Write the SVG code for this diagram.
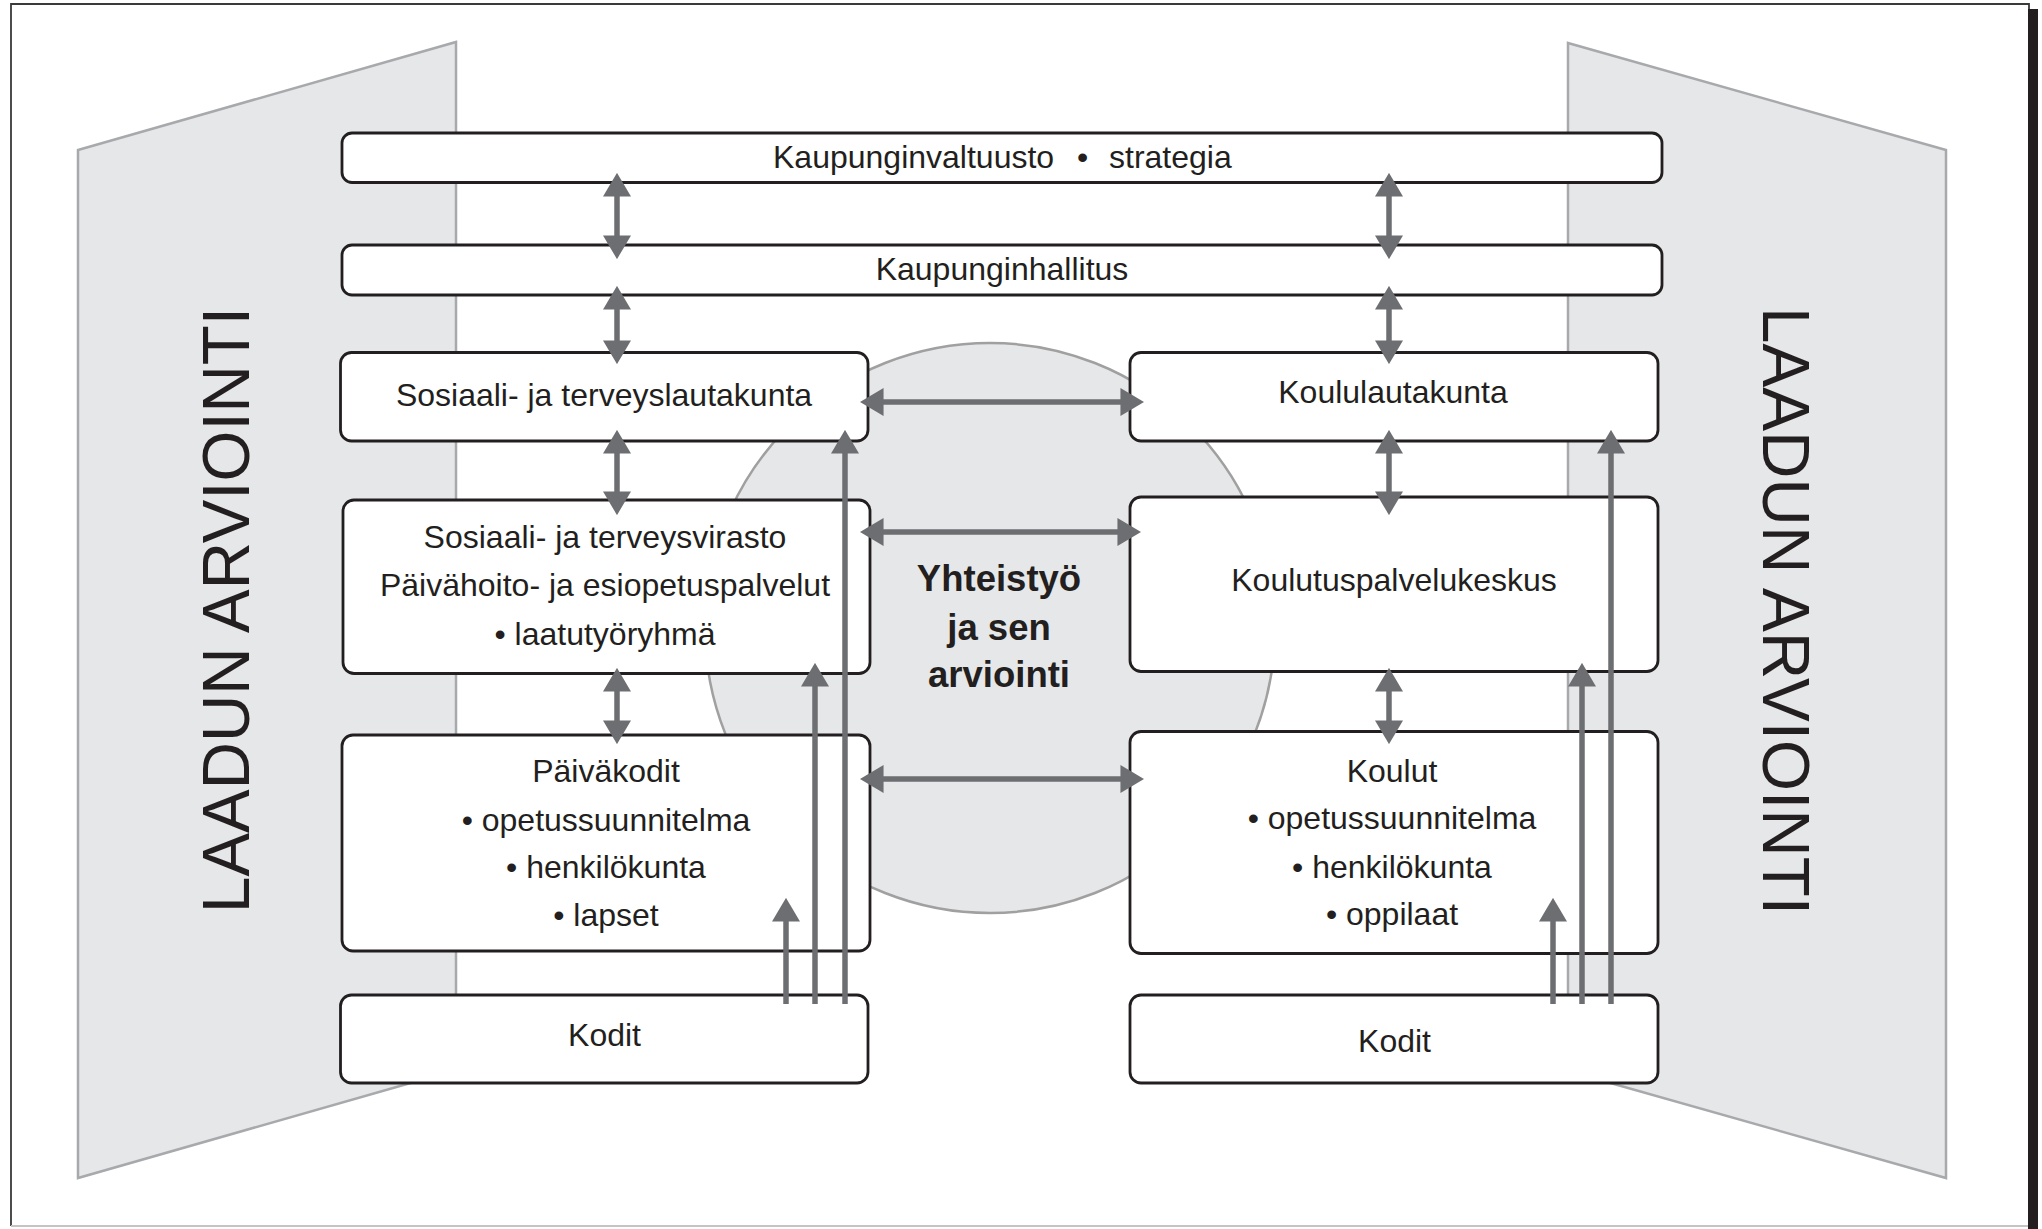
<svg xmlns="http://www.w3.org/2000/svg" width="2042" height="1229" viewBox="0 0 2042 1229">
<style>
.box{fill:#ffffff;stroke:#231f20;stroke-width:2.8}
.wall{fill:#e6e7e8;stroke:#a7a9ac;stroke-width:2.5}
.t{font-family:"Liberation Sans",Arial,Helvetica,sans-serif;font-size:32px;fill:#231f20;text-anchor:middle}
.tb{font-family:"Liberation Sans",Arial,Helvetica,sans-serif;font-size:36.5px;font-weight:bold;fill:#231f20;text-anchor:middle}
.big{font-family:"Liberation Sans",Arial,Helvetica,sans-serif;font-size:66px;fill:#231f20;text-anchor:middle}
.a{stroke:#6d6e71;stroke-width:5.5;fill:none}
</style>
<defs>
<marker id="ah" markerUnits="userSpaceOnUse" markerWidth="24" markerHeight="28" viewBox="0 0 22 26" refX="0.5" refY="13" orient="auto-start-reverse">
<path d="M0,0 L22,13 L0,26 Z" fill="#6d6e71"/>
</marker>
</defs>
<rect width="2042" height="1229" fill="#ffffff"/>
<g id="frame">
<path d="M11,1226 L11,4 L2029,4 L2029,9" fill="none" stroke="#3a3a3a" stroke-width="1.8"/>
<line x1="11" y1="1226" x2="2029" y2="1226" stroke="#c4c4c4" stroke-width="2"/>
<rect x="2028" y="9" width="10" height="1220" fill="#231f20"/>
</g>
<g id="wall-left">
<polygon class="wall" points="78,150 456,42 456,1070 78,1178"/>
<text class="big" transform="translate(249,610) rotate(-90)" textLength="606" lengthAdjust="spacingAndGlyphs">LAADUN ARVIOINTI</text>
</g>
<g id="wall-right">
<polygon class="wall" points="1568,43 1946,150 1946,1178 1568,1071"/>
<text class="big" transform="translate(1763,611) rotate(90)" textLength="608" lengthAdjust="spacingAndGlyphs">LAADUN ARVIOINTI</text>
</g>
<g id="cooperation">
<circle cx="990" cy="628" r="285" fill="#e6e7e8" stroke="#a0a0a0" stroke-width="2.5"/>
<text class="tb" x="999" y="591">Yhteistyö</text>
<text class="tb" x="999" y="640">ja sen</text>
<text class="tb" x="999" y="687">arviointi</text>
</g>
<g id="kaupunginvaltuusto">
<rect class="box" x="342" y="133" width="1320" height="49.5" rx="10"/>
<text class="t" x="773" y="168" style="text-anchor:start">Kaupunginvaltuusto<tspan x="1077">•</tspan><tspan x="1109">strategia</tspan></text>
</g>
<g id="kaupunginhallitus">
<rect class="box" x="342" y="245" width="1320" height="50" rx="10"/>
<text class="t" x="1002" y="280">Kaupunginhallitus</text>
</g>
<g id="sosiaali-lautakunta">
<rect class="box" x="340.5" y="352.5" width="527.5" height="88.5" rx="11"/>
<text class="t" x="604" y="406">Sosiaali- ja terveyslautakunta</text>
</g>
<g id="koululautakunta">
<rect class="box" x="1130" y="352.5" width="528" height="88.5" rx="11"/>
<text class="t" x="1393" y="403">Koululautakunta</text>
</g>
<g id="sosiaali-virasto">
<rect class="box" x="343" y="500" width="527" height="173.5" rx="11"/>
<text class="t" x="605" y="548">Sosiaali- ja terveysvirasto</text>
<text class="t" x="605" y="596">Päivähoito- ja esiopetuspalvelut</text>
<text class="t" x="605" y="645">• laatutyöryhmä</text>
</g>
<g id="koulutuspalvelukeskus">
<rect class="box" x="1130" y="497" width="528" height="174.5" rx="11"/>
<text class="t" x="1394" y="590.5">Koulutuspalvelukeskus</text>
</g>
<g id="paivakodit">
<rect class="box" x="342" y="735" width="528" height="216" rx="11"/>
<text class="t" x="606" y="782">Päiväkodit</text>
<text class="t" x="606" y="830.5">• opetussuunnitelma</text>
<text class="t" x="606" y="878">• henkilökunta</text>
<text class="t" x="606" y="926">• lapset</text>
</g>
<g id="koulut">
<rect class="box" x="1130" y="731.5" width="528" height="222" rx="11"/>
<text class="t" x="1392" y="781.5">Koulut</text>
<text class="t" x="1392" y="829">• opetussuunnitelma</text>
<text class="t" x="1392" y="877.5">• henkilökunta</text>
<text class="t" x="1392" y="925">• oppilaat</text>
</g>
<g id="kodit-left">
<rect class="box" x="340.5" y="995" width="527.5" height="88" rx="11"/>
<text class="t" x="604.5" y="1046">Kodit</text>
</g>
<g id="kodit-right">
<rect class="box" x="1130" y="995" width="528" height="88" rx="11"/>
<text class="t" x="1394.5" y="1052">Kodit</text>
</g>
<g id="connectors" class="a">
<line x1="617" y1="196" x2="617" y2="236" marker-start="url(#ah)" marker-end="url(#ah)"/>
<line x1="617" y1="309" x2="617" y2="341" marker-start="url(#ah)" marker-end="url(#ah)"/>
<line x1="617" y1="453" x2="617" y2="492" marker-start="url(#ah)" marker-end="url(#ah)"/>
<line x1="617" y1="691" x2="617" y2="721" marker-start="url(#ah)" marker-end="url(#ah)"/>
<line x1="1389" y1="196" x2="1389" y2="236" marker-start="url(#ah)" marker-end="url(#ah)"/>
<line x1="1389" y1="309" x2="1389" y2="341" marker-start="url(#ah)" marker-end="url(#ah)"/>
<line x1="1389" y1="453" x2="1389" y2="492" marker-start="url(#ah)" marker-end="url(#ah)"/>
<line x1="1389" y1="691" x2="1389" y2="721" marker-start="url(#ah)" marker-end="url(#ah)"/>
<line x1="883" y1="402" x2="1121" y2="402" marker-start="url(#ah)" marker-end="url(#ah)"/>
<line x1="883" y1="532" x2="1118" y2="532" marker-start="url(#ah)" marker-end="url(#ah)"/>
<line x1="883" y1="779" x2="1121" y2="779" marker-start="url(#ah)" marker-end="url(#ah)"/>
<line x1="786" y1="1004" x2="786" y2="921" marker-end="url(#ah)"/>
<line x1="815" y1="1004" x2="815" y2="686" marker-end="url(#ah)"/>
<line x1="845" y1="1004" x2="845" y2="453" marker-end="url(#ah)"/>
<line x1="1553" y1="1004" x2="1553" y2="921" marker-end="url(#ah)"/>
<line x1="1582" y1="1004" x2="1582" y2="686" marker-end="url(#ah)"/>
<line x1="1611" y1="1004" x2="1611" y2="453" marker-end="url(#ah)"/>
</g>
</svg>
